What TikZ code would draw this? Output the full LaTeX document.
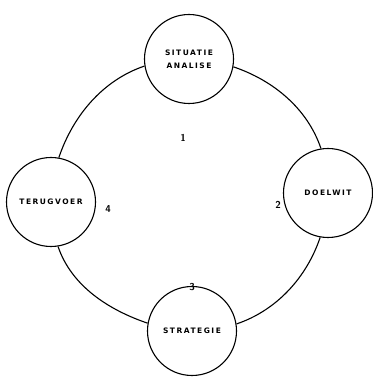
\documentclass[tikz,border=0pt]{standalone}
\usepackage{fontspec}
\newfontfamily\stagefont[LetterSpace=20]{DejaVu Sans}
\usetikzlibrary{arrows.meta,calc}

\begin{document}
\begin{tikzpicture}[x=1pt, y=1pt,
    stage/.style={circle, draw, line width=1.1pt, fill=white, minimum size=89pt,
      inner sep=0pt, align=center, font=\stagefont\bfseries\fontsize{7.5}{13}\selectfont},
    cyclearc/.style={line width=1.1pt, looseness=0.9},
    stepnum/.style={font=\sffamily\bfseries\fontsize{10}{11}\selectfont}]
  % vaste rand van de figuur
  \useasboundingbox (0,0) rectangle (372,377);

  % de vier fasen
  \node[stage] (sit)   at (189,318) {SITUATIE\\ANALISE};
  \node[stage] (doel)  at (328,184) {DOELWIT};
  \node[stage] (strat) at (192,46)  {STRATEGIE};
  \node[stage] (terug) at (51,175)  {TERUGVOER};

  % cirkel tussen de fasen (stukken van een grote cirkel)
  \draw[cyclearc] (sit.189.4)   to[out=198.7, in=71.3]  (terug.80.6);
  \draw[cyclearc] (terug.279.4) to[out=288.7, in=161.3] (strat.170.6);
  \draw[cyclearc] (strat.9.4)   to[out=18.7,  in=251.3] (doel.260.6);
  \draw[cyclearc] (doel.99.4)   to[out=108.7, in=341.3] (sit.350.6);

  % nummers
  \node[stepnum] (n1) at (183,239) {1};
  \node[stepnum] (n2) at (278,172) {2};
  \node[stepnum] (n3) at (192,90)  {3};
  \node[stepnum] (n4) at (108,168) {4};
\end{tikzpicture}
\end{document}
